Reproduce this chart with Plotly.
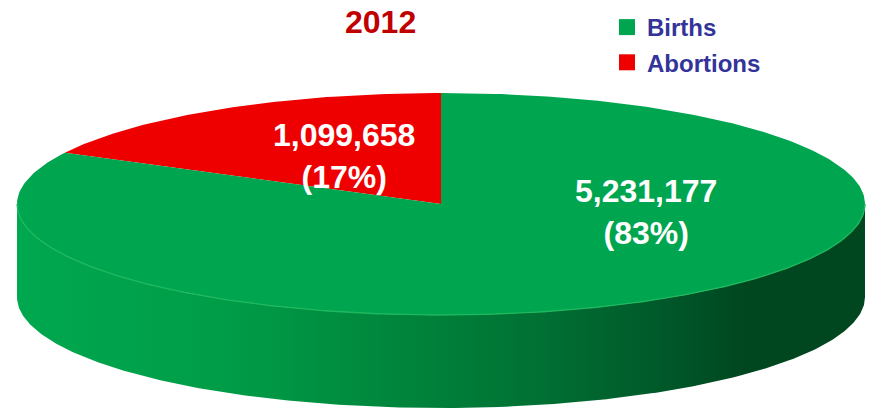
import numpy as np
import plotly.graph_objects as go

# Data
categories = ["Births", "Abortions"]
counts = [5231177, 1099658]
slice_colors = ["#00A54F", "#EE0000"]
chart_title = "2012"

FONT = "Liberation Sans, Arial, sans-serif"
W, H = 869, 412

# Tilted-disc geometry (pixel-like data units, y axis pointing down)
CX, CY = 441, 204
RX, RY = 424, 111
DEPTH = 93


def rim(theta, drop=0.0):
    """Point(s) on the top ellipse at angle theta (radians, counter-clockwise)."""
    return CX + RX * np.cos(theta), CY - RY * np.sin(theta) + drop


total = sum(counts)
shares = [c / total for c in counts]

fig = go.Figure()

# Side wall: visible front half of the disc with a left-to-right shading
front = np.linspace(np.pi, 2 * np.pi, 240)
tx, ty = rim(front)
bx, by = rim(front[::-1], DEPTH)
fig.add_trace(go.Scatter(
    x=np.concatenate([tx, bx]), y=np.concatenate([ty, by]),
    mode="lines", line=dict(width=0), fill="toself",
    fillgradient=dict(
        type="horizontal",
        colorscale=[[0.0, "#00A84F"], [0.25, "#009C47"], [0.45, "#00853C"],
                    [0.62, "#007033"], [0.78, "#005528"], [0.86, "#00471F"],
                    [1.0, "#00471F"]],
    ),
    hoverinfo="skip", showlegend=False,
))

# Top face slices: Abortions starts at 12 o'clock going counter-clockwise,
# Births takes the remainder of the circle.
start = np.pi / 2
order = [1, 0]
for idx in order:
    span = shares[idx] * 2 * np.pi
    th = np.linspace(start, start + span, max(20, int(400 * shares[idx])))
    ax_, ay_ = rim(th)
    fig.add_trace(go.Scatter(
        x=np.concatenate([[CX], ax_, [CX]]),
        y=np.concatenate([[CY], ay_, [CY]]),
        mode="lines", line=dict(width=0, color=slice_colors[idx]),
        fill="toself", fillcolor=slice_colors[idx],
        hoverinfo="skip", showlegend=False,
    ))
    start += span

# Thin highlight along the front rim of the top face
fig.add_trace(go.Scatter(
    x=tx, y=ty, mode="lines",
    line=dict(color="#1FB85E", width=1.3),
    hoverinfo="skip", showlegend=False,
))

# Legend entries
for i, idx in enumerate([0, 1]):
    fig.add_trace(go.Scatter(
        x=[None], y=[None], mode="markers", name=categories[idx],
        legendgroup=categories[idx],
        marker=dict(symbol="square", size=18, color=slice_colors[idx]),
    ))

# Value labels drawn from the counts
label_pos = {1: (344, 156), 0: (646, 212)}
for idx, (lx, ly) in label_pos.items():
    pct = round(shares[idx] * 100)
    fig.add_annotation(
        x=lx, y=ly, xref="x", yref="y", showarrow=False,
        text=f"{counts[idx]:,}<br>({pct}%)",
        font=dict(family=FONT, size=32, color="white", weight="bold"),
        align="center",
    )

# Title
fig.add_annotation(
    x=380, y=22, xref="x", yref="y", showarrow=False, text=chart_title,
    font=dict(family=FONT, size=32, color="#C00000", weight="bold"),
)

fig.update_layout(
    width=W, height=H,
    margin=dict(l=0, r=0, t=0, b=0),
    paper_bgcolor="white", plot_bgcolor="white",
    xaxis=dict(range=[0, W], visible=False, fixedrange=True),
    yaxis=dict(range=[H, 0], visible=False, fixedrange=True),
    showlegend=True,
    legend=dict(
        x=607 / W, y=1 - 5 / H, xanchor="left", yanchor="top",
        font=dict(family=FONT, size=24, color="#333399", weight="bold"),
        bgcolor="rgba(0,0,0,0)", tracegroupgap=1,
        itemclick=False, itemdoubleclick=False,
    ),
    hovermode=False,
)

fig.write_html("out.html", config={"displayModeBar": False})
